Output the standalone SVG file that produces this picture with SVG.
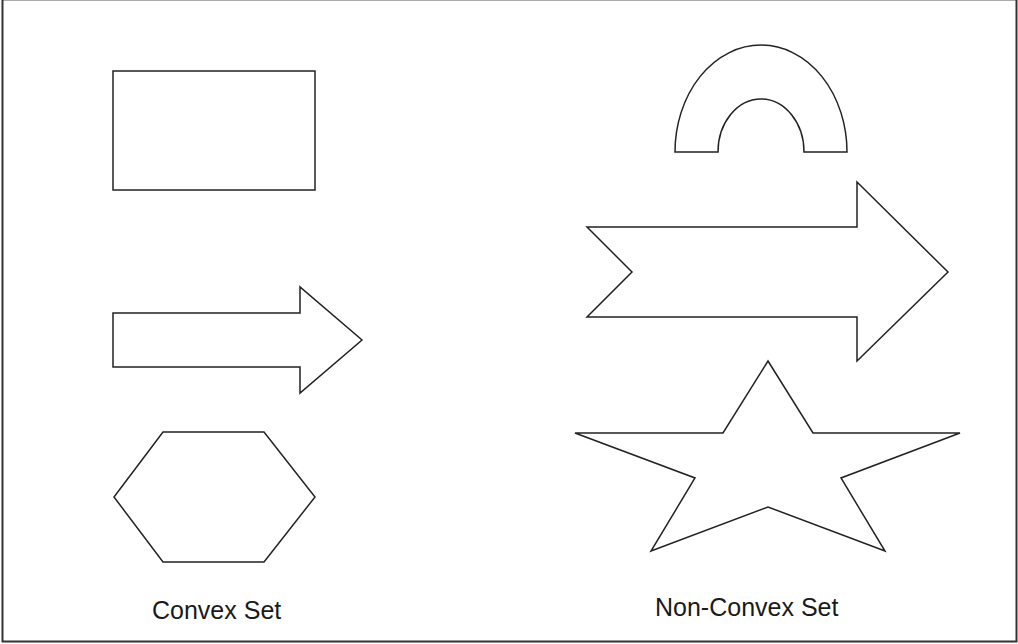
<svg xmlns="http://www.w3.org/2000/svg" width="1018" height="644" viewBox="0 0 1018 644">
<style>
.s{fill:#fff;stroke:#222;stroke-width:1.5;stroke-linejoin:miter}
.t{font-family:"Liberation Sans",Arial,sans-serif;font-size:25px;fill:#1a1a1a}
</style>
<rect width="1018" height="644" fill="#fff"/>
<g id="frame">
<line x1="2" y1="0.5" x2="1016" y2="0.5" stroke="#aaa" stroke-width="1"/>
<path d="M2.5,0 V641.5 H1016.5 V0" fill="none" stroke="#333" stroke-width="2"/>
</g>
<g id="rectangle"><rect class="s" x="113" y="71" width="202" height="119"/></g>
<g id="small-arrow"><path class="s" d="M113,313 H300 V287 L362,340 L300,393 V367 H113 Z"/></g>
<g id="hexagon"><path class="s" d="M163,432 H264 L315,497 L264,562 H163 L114,497 Z"/></g>
<g id="arch"><path class="s" d="M675,152 A86,107 0 0 1 847,152 H804 A43,53 0 0 0 718,152 Z"/></g>
<g id="big-arrow"><path class="s" d="M587,227 H857 V182 L948,272 L857,361 V317 H587 L632,272 Z"/></g>
<g id="star"><path class="s" d="M768,361 L813,433 H960 L841,478 L885,551 L768,507 L651,551 L695,478 L575,433 H723 Z"/></g>
<g id="labels">
<text class="t" x="152" y="619">Convex Set</text>
<text class="t" x="655" y="616">Non-Convex Set</text>
</g>
</svg>
